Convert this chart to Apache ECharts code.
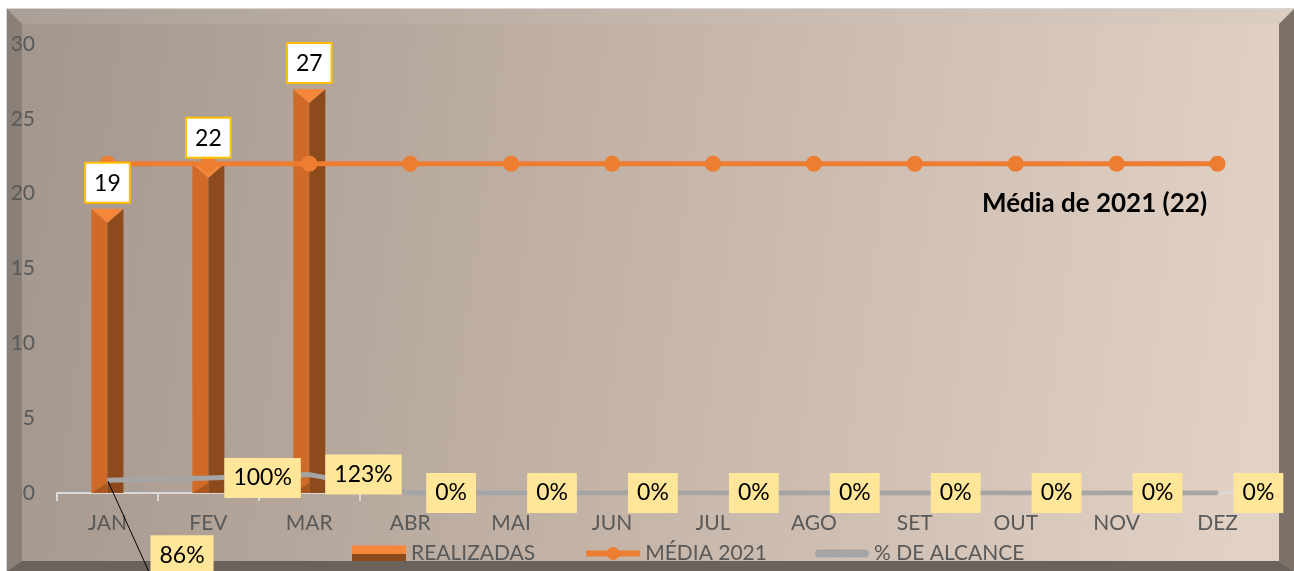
<!DOCTYPE html>
<html>
<head>
<meta charset="utf-8">
<script src="https://cdn.jsdelivr.net/npm/echarts@6/dist/echarts.min.js"></script>
<style>
  html, body { margin: 0; padding: 0; background: #fff; }
  #main { width: 1294px; height: 571px; }
</style>
</head>
<body>
<div id="main"></div>
<script>
var months = ['JAN', 'FEV', 'MAR', 'ABR', 'MAI', 'JUN', 'JUL', 'AGO', 'SET', 'OUT', 'NOV', 'DEZ'];
var realizadas = [19, 22, 27];
var media2021 = [22, 22, 22, 22, 22, 22, 22, 22, 22, 22, 22, 22];
var alcance = [0.86, 1.00, 1.23, 0, 0, 0, 0, 0, 0, 0, 0, 0];
var yTicks = { min: 0, max: 30, interval: 5 };

var fontFam = 'Lato, "Open Sans", sans-serif';

// coluna "3D": face clara à esquerda, lateral escura e topo em bisel
function renderBar(params, api) {
    var v = api.value(1);
    if (v == null || isNaN(v)) return;
    var top = api.coord([api.value(0), v]);
    var base = api.coord([api.value(0), 0]);
    var half = 16, h = 14;
    var xc = top[0], x0 = xc - half, x1 = xc + half;
    return {
        type: 'group',
        children: [
            { type: 'polygon', shape: { points: [[x0, top[1]], [xc, top[1] + h], [xc, base[1]], [x0, base[1]]] }, style: { fill: '#CF6A28' } },
            { type: 'polygon', shape: { points: [[xc, top[1] + h], [x1, top[1]], [x1, base[1]], [xc, base[1]]] }, style: { fill: '#8C4A1D' } },
            { type: 'polygon', shape: { points: [[x0, top[1]], [x1, top[1]], [xc, top[1] + h]] }, style: { fill: '#F5873A' } },
            { type: 'polygon', shape: { points: [[x0, base[1]], [xc, base[1] - 10], [xc, base[1]]] }, style: { fill: '#A9561F' } }
        ]
    };
}

var pctLabel = {
    show: true,
    position: 'right',
    distance: 15,
    formatter: function (p) { return Math.round(p.value * 100) + '%'; },
    color: '#000',
    fontSize: 23,
    fontFamily: fontFam,
    backgroundColor: '#FFE699',
    padding: [9, 9, 8, 9]
};

var alcanceData = alcance.map(function (v, i) {
    if (i === 0) {
        return {
            value: v,
            label: { offset: [27, 75] },
            labelLine: { show: true, lineStyle: { color: '#000', width: 1 } }
        };
    }
    return v;
});

var mediaData = media2021.map(function (v, i) {
    if (i === media2021.length - 1) {
        return {
            value: v,
            label: {
                show: true,
                position: 'bottom',
                offset: [-123, 14],
                formatter: 'Média de 2021 (22)',
                color: '#000',
                fontSize: 26,
                fontWeight: 'bold',
                fontFamily: fontFam
            }
        };
    }
    return v;
});

var myChart = echarts.init(document.getElementById('main'));
var option = {
    animation: false,
    backgroundColor: '#fff',
    graphic: [
        {
            type: 'rect', z: -10, silent: true,
            shape: { x: 7, y: 9, width: 1287, height: 562 },
            style: {
                fill: {
                    type: 'linear', x: 0, y: 0, x2: 1, y2: 0.3,
                    colorStops: [{ offset: 0, color: '#A3968C' }, { offset: 0.5, color: '#C4B4A8' }, { offset: 1, color: '#E2D2C5' }]
                }
            }
        },
        {
            type: 'polygon', z: -5, silent: true,
            shape: { points: [[7, 9], [1294, 9], [1279, 24], [22, 24]] },
            style: {
                fill: {
                    type: 'linear', x: 0, y: 0, x2: 1, y2: 0,
                    colorStops: [{ offset: 0, color: '#ABA097' }, { offset: 1, color: '#DCCDC1' }]
                }
            }
        },
        {
            type: 'polygon', z: -5, silent: true,
            shape: { points: [[7, 9], [22, 24], [22, 561], [7, 571]] },
            style: { fill: '#8B8078' }
        },
        {
            type: 'polygon', z: 4, silent: true,
            shape: { points: [[1294, 9], [1294, 571], [1279, 561], [1279, 24]] },
            style: { fill: '#7B7169' }
        },
        {
            type: 'polygon', z: 4, silent: true,
            shape: { points: [[7, 571], [22, 561], [1279, 561], [1294, 571]] },
            style: { fill: '#6B625B' }
        },
        {
            type: 'rect', z: 4, silent: true,
            shape: { x: 6, y: 8, width: 1, height: 563 },
            style: { fill: '#D6D6D6' }
        },
        {
            type: 'rect', z: 4, silent: true,
            shape: { x: 6, y: 8, width: 1288, height: 1 },
            style: { fill: '#D6D6D6' }
        }
    ],
    grid: { left: 57, right: 26, top: 44, bottom: 78 },
    legend: {
        z: 3,
        left: 347,
        top: 538,
        itemWidth: 54,
        itemHeight: 16,
        itemGap: 48,
        textStyle: { color: '#595959', fontSize: 21, fontFamily: fontFam },
        data: [
            {
                name: 'REALIZADAS', icon: 'rect',
                itemStyle: {
                    color: {
                        type: 'linear', x: 0, y: 0, x2: 0, y2: 1,
                        colorStops: [{ offset: 0, color: '#F5873A' }, { offset: 0.5, color: '#F5873A' }, { offset: 0.51, color: '#8C4A1D' }, { offset: 1, color: '#8C4A1D' }]
                    }
                }
            },
            { name: 'MÉDIA 2021', lineStyle: { width: 6 } },
            { name: '% DE ALCANCE', icon: 'path://M4,0 H51 A4,4 0 0 1 51,8 H4 A4,4 0 0 1 4,0 Z' }
        ]
    },
    xAxis: {
        type: 'category',
        data: months,
        boundaryGap: true,
        axisLine: { lineStyle: { color: '#D9D9D9', width: 2 } },
        axisTick: { show: true, length: 8, lineStyle: { color: '#D9D9D9', width: 2 } },
        axisLabel: { color: '#595959', fontSize: 21, fontFamily: fontFam, margin: 20 },
        splitLine: { show: false }
    },
    yAxis: {
        type: 'value',
        min: yTicks.min,
        max: yTicks.max,
        interval: yTicks.interval,
        axisLine: { show: false },
        axisTick: { show: false },
        splitLine: { show: false },
        axisLabel: { color: '#595959', fontSize: 21, fontFamily: fontFam, margin: 22 }
    },
    series: [
        {
            name: 'REALIZADAS',
            type: 'custom',
            z: 2,
            renderItem: renderBar,
            itemStyle: { color: '#CF6A28' },
            encode: { x: 0, y: 1 },
            data: realizadas.map(function (v, i) { return [i, v]; })
        },
        {
            name: 'realizadas-rotulo',
            type: 'bar',
            z: 10,
            barWidth: 32,
            itemStyle: { color: 'rgba(0,0,0,0)' },
            label: {
                show: true,
                position: 'top',
                distance: 7,
                color: '#000',
                fontSize: 23,
                fontFamily: fontFam,
                backgroundColor: '#fff',
                borderColor: '#FFC000',
                borderWidth: 2,
                padding: [8, 8, 7, 8]
            },
            data: realizadas
        },
        {
            name: 'MÉDIA 2021',
            type: 'line',
            z: 4,
            data: mediaData,
            color: '#ED7D31',
            lineStyle: { color: '#ED7D31', width: 5 },
            itemStyle: { color: '#ED7D31' },
            symbol: 'circle',
            symbolSize: 16
        },
        {
            name: '% DE ALCANCE',
            type: 'line',
            z: 5,
            data: alcanceData,
            color: '#A5A5A5',
            lineStyle: { color: '#A5A5A5', width: 5 },
            itemStyle: { color: '#A5A5A5' },
            symbol: 'circle',
            symbolSize: 2,
            label: pctLabel
        }
    ]
};
myChart.setOption(option);
</script>
</body>
</html>
